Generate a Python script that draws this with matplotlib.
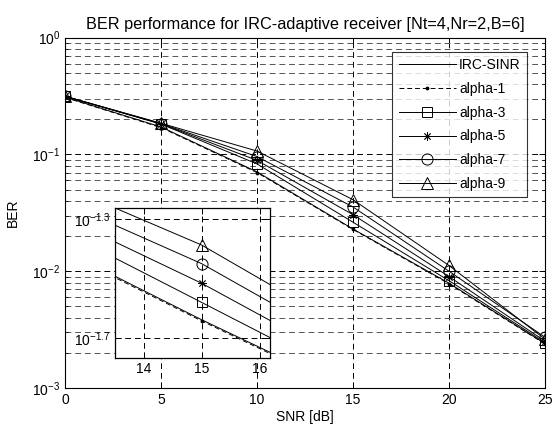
import numpy as np
import matplotlib
matplotlib.use("Agg")
import matplotlib.pyplot as plt
from matplotlib.ticker import LogLocator, FixedLocator, NullFormatter

plt.rcParams['font.family'] = ['Liberation Sans', 'DejaVu Sans']
plt.rcParams['mathtext.fontset'] = 'custom'
plt.rcParams['mathtext.rm'] = 'Liberation Sans'

snr = [0, 5, 10, 15, 20, 25]
irc_sinr = [0.310, 0.172, 0.071, 0.0230, 0.0079, 0.00240]
alpha_1 = [0.308, 0.170, 0.070, 0.0228, 0.0078, 0.00238]
alpha_3 = [0.315, 0.182, 0.083, 0.0263, 0.0083, 0.00245]
alpha_5 = [0.315, 0.183, 0.089, 0.0305, 0.0090, 0.00252]
alpha_7 = [0.315, 0.184, 0.096, 0.0355, 0.0100, 0.00272]
alpha_9 = [0.315, 0.185, 0.107, 0.0410, 0.0112, 0.00262]

title = "BER performance for IRC-adaptive receiver [Nt=4,Nr=2,B=6]"
xlabel = "SNR [dB]"
ylabel = "BER"
xticks = [0, 5, 10, 15, 20, 25]
inset_xticks = [14, 15, 16]
inset_yexp = [-1.7, -1.3]

fig = plt.figure(figsize=(5.53, 4.28), dpi=100)
ax = fig.add_axes([65/553, 40/428, 480/553, 350.3/428])

def draw(a, ms=7):
    a.plot(snr, irc_sinr, color='k', lw=0.7, label='IRC-SINR')
    a.plot(snr, alpha_1, color='k', lw=0.7, ls=(0, (5, 3)), marker='.', ms=3.5, label='alpha-1')
    a.plot(snr, alpha_3, color='k', lw=0.7, marker='s', ms=ms, mfc='none', mew=0.7, label='alpha-3')
    a.plot(snr, alpha_5, color='k', lw=0.7, marker=(8, 2, 0), ms=ms-1, mfc='none', mew=0.6, label='alpha-5')
    a.plot(snr, alpha_7, color='k', lw=0.7, marker='o', ms=ms+1, mfc='none', mew=0.7, label='alpha-7')
    a.plot(snr, alpha_9, color='k', lw=0.7, marker='^', ms=ms+1, mfc='none', mew=0.7, label='alpha-9')

draw(ax)
ax.set_yscale('log')
ax.set_xlim(0, 25)
ax.set_ylim(1e-3, 1)
ax.set_xticks(xticks)
ax.yaxis.set_major_locator(LogLocator(base=10, numticks=10))
ax.yaxis.set_minor_locator(LogLocator(base=10, subs=np.arange(2, 10), numticks=20))
ax.yaxis.set_minor_formatter(NullFormatter())
ax.tick_params(which='both', direction='in', top=True, right=True, labelsize=10)
ax.tick_params(which='major', length=4, width=0.7)
ax.tick_params(which='minor', length=2, width=0.5)
ax.grid(True, which='major', color='k', ls=(0, (6, 4)), lw=0.7)
ax.grid(True, which='minor', axis='y', color='#555555', ls=(0, (6, 4)), lw=0.7)
for s in ax.spines.values():
    s.set_linewidth(0.8)
ax.set_title(title, fontsize=11.7, pad=6)
ax.set_xlabel(xlabel, fontsize=10, labelpad=2)
ax.set_ylabel(ylabel, fontsize=10, labelpad=9)
leg = ax.legend(loc='upper right', bbox_to_anchor=(462/480, 336/350.3), fontsize=10,
                handlelength=4.1, frameon=True, fancybox=False, edgecolor='k',
                borderpad=0.45, labelspacing=0.7, handletextpad=0.25, borderaxespad=0.0)
leg.get_frame().set_linewidth(0.8)

ins = fig.add_axes([114.5/553, 70/428, 155.5/553, 150/428])
draw(ins, ms=7)
ins.set_yscale('log')
ins.set_xlim(13.5, 16.18)
ins.set_ylim(10**-1.767, 10**-1.263)
ins.set_xticks(inset_xticks)
ins.yaxis.set_major_locator(FixedLocator([10**e for e in inset_yexp]))
ins.yaxis.set_minor_locator(FixedLocator([]))
ins.set_yticklabels([r'$10^{%s}$' % e for e in inset_yexp])
ins.tick_params(which='both', direction='in', top=True, right=True, labelsize=10, length=4, width=0.7, pad=3)
ins.grid(True, which='major', color='k', ls=(0, (6, 4)), lw=0.7)
for s in ins.spines.values():
    s.set_linewidth(0.9)

fig.savefig('out.png', dpi=100)
